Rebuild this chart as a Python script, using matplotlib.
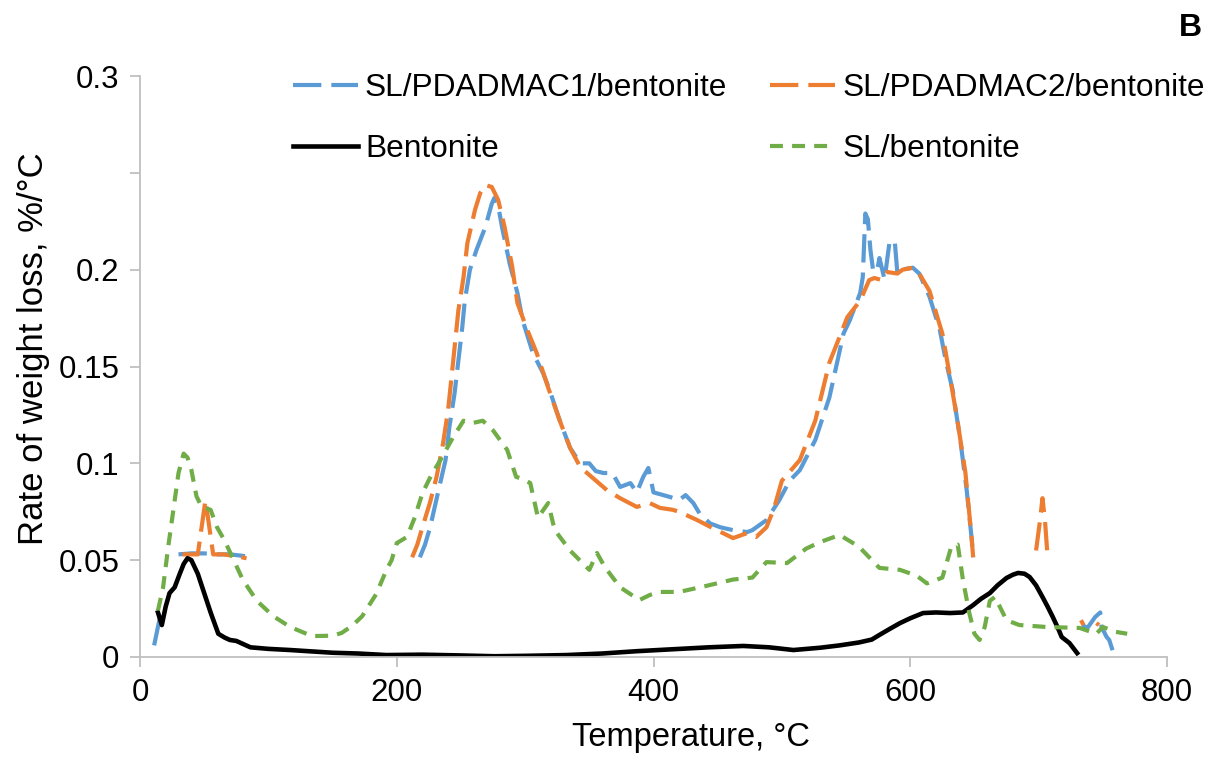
import numpy as np
import matplotlib
matplotlib.use("Agg")
import matplotlib.pyplot as plt

nan = np.nan

# Bentonite
bent_t = [14, 17, 20, 23, 27, 31, 34, 37, 40, 45, 50, 55, 61, 66, 70, 75, 86, 100, 117, 131,
          150, 170, 192, 220, 250, 276, 300, 332, 360, 387, 415, 443, 470, 490, 509, 530, 545,
          560, 570, 576, 584, 592, 600, 610, 620, 631, 641, 649, 655, 662, 668, 675, 680, 684,
          689, 693, 698, 703, 707, 711, 715, 718, 724, 730]
bent_r = [0.023, 0.0165, 0.026, 0.033, 0.036, 0.043, 0.048, 0.051, 0.050, 0.043, 0.033, 0.023,
          0.012, 0.010, 0.0088, 0.0083, 0.005, 0.0042, 0.0036, 0.003, 0.0022, 0.0018, 0.001,
          0.0012, 0.0008, 0.0004, 0.0006, 0.001, 0.0018, 0.003, 0.004, 0.005, 0.0057, 0.005,
          0.0036, 0.0048, 0.006, 0.0075, 0.009, 0.0114, 0.0145, 0.0175, 0.020, 0.0227, 0.023,
          0.0227, 0.023, 0.0268, 0.030, 0.033, 0.037, 0.0408, 0.0425, 0.0434, 0.043, 0.0413,
          0.037, 0.031, 0.026, 0.0207, 0.015, 0.0103, 0.0072, 0.002]

# SL/bentonite
sl_t = [14, 18, 22, 26, 30, 34, 37, 40, 44, 48, 55, 60, 66, 73, 80, 91, 104, 117, 134, 150,
        157, 165, 173, 184, 192, 196, 200, 208, 214, 220, 227, 234, 244, 252, 259, 267, 275,
        286, 293, 298, 304, 310, 318, 323, 335, 350, 356, 362, 374, 389, 397, 405, 420, 441,
        462, 477, 488, 504, 519, 530, 545, 560, 576, 592, 605, 613, 625, 632, 637, 641, 646,
        650, 654, 658, 662, 666, 675, 685, 706, 732, 745, 750, 760, 769]
sl_r = [0.024, 0.036, 0.057, 0.076, 0.095, 0.105, 0.103, 0.0966, 0.083, 0.0775, 0.076, 0.067,
        0.060, 0.050, 0.040, 0.029, 0.021, 0.0155, 0.0108, 0.011, 0.0124, 0.016, 0.021, 0.0325,
        0.045, 0.050, 0.0588, 0.062, 0.072, 0.0846, 0.094, 0.1017, 0.1136, 0.122, 0.1208, 0.122,
        0.117, 0.107, 0.093, 0.092, 0.0898, 0.072, 0.0795, 0.0656, 0.055, 0.045, 0.0537, 0.0465,
        0.036, 0.0294, 0.032, 0.0336, 0.0336, 0.0367, 0.040, 0.041, 0.049, 0.0485, 0.056,
        0.0594, 0.063, 0.057, 0.046, 0.045, 0.042, 0.038, 0.041, 0.057, 0.058, 0.040, 0.0227,
        0.012, 0.0088, 0.0155, 0.029, 0.031, 0.019, 0.0165, 0.0155, 0.015, 0.012, 0.0155, 0.013,
        0.012]

# SL/PDADMAC1/bentonite (gaps kept as nan)
pd1_t = [11, 16, nan, 30, 40, 50, 60, 70, 83, nan,
         218, 222, 226, 232, 238, 241, 245, 248, 251, 253, 257, 262, 269, 274, 276, 279, 282,
         288, 294, 298, 306, 314, 319, 327, 335, 343, 350, 355, 361, 368, 374, 382, 387, 392,
         396, 400, 413, 420, 425, 431, 436, 444, 452, 462, 473, 477, 488, 498, 506, 514, 526,
         537, 543, 548, 553, 561, 563, 565, 567, 569, 571, 574, 576, 580, 584, 588, 590, 593,
         602, 607, 615, 623, 628, 633, 639, 644, 648, 649, nan,
         734, 738, 744, 748, 749, 753, 755, 758]
pd1_r = [0.006, 0.022, nan, 0.053, 0.0535, 0.0535, 0.053, 0.053, 0.052, nan,
         0.0515, 0.058, 0.067, 0.0845, 0.1017, 0.1187, 0.136, 0.153, 0.170, 0.184, 0.200, 0.210,
         0.222, 0.234, 0.237, 0.233, 0.222, 0.203, 0.188, 0.174, 0.157, 0.1466, 0.138, 0.122,
         0.108, 0.100, 0.100, 0.096, 0.095, 0.095, 0.0878, 0.0898, 0.085, 0.093, 0.0976, 0.085,
         0.0826, 0.081, 0.0836, 0.0795, 0.074, 0.069, 0.067, 0.0655, 0.0645, 0.0655, 0.0707,
         0.081, 0.091, 0.0965, 0.112, 0.134, 0.152, 0.167, 0.174, 0.188, 0.196, 0.229, 0.226,
         0.21, 0.200, 0.199, 0.206, 0.195, 0.215, 0.214, 0.198, 0.200, 0.201, 0.198, 0.186,
         0.169, 0.152, 0.138, 0.112, 0.086, 0.060, 0.0515, nan,
         0.0165, 0.015, 0.0206, 0.023, 0.0155, 0.0103, 0.0088, 0.0026]

# SL/PDADMAC2/bentonite
pd2_t = [33, 40, 45, 48, 51, 54, 57, 65, 75, 83, nan,
         212, 216, 220, 226, 231, 236, 240, 244, 248, 252, 255, 261, 265, 269, 274, 279, 284,
         290, 294, 301, 309, 318, 327, 335, 343, 350, 357, 364, 374, 387, 397, 405, 415, 420,
         434, 446, 462, 473, 480, 488, 494, 500, 514, 526, 537, 543, 551, 561, 568, 572, 578,
         582, 590, 594, 602, 607, 615, 625, 631, 637, 643, 648, 649, nan,
         698, 701, 703, 705, 707, nan,
         733, 735, nan, 745, 747]
pd2_r = [0.053, 0.053, 0.053, 0.067, 0.081, 0.067, 0.053, 0.053, 0.052, 0.051, nan,
         0.0515, 0.058, 0.067, 0.080, 0.093, 0.110, 0.1275, 0.153, 0.179, 0.196, 0.2137, 0.231,
         0.2395, 0.2437, 0.2427, 0.236, 0.222, 0.2013, 0.1828, 0.170, 0.157, 0.139, 0.122,
         0.108, 0.098, 0.094, 0.090, 0.086, 0.082, 0.0775, 0.0795, 0.077, 0.076, 0.075, 0.0707,
         0.0666, 0.0614, 0.064, 0.062, 0.067, 0.077, 0.091, 0.1017, 0.122, 0.152, 0.162,
         0.1755, 0.184, 0.1946, 0.1957, 0.1946, 0.1988, 0.198, 0.200, 0.201, 0.198, 0.189,
         0.167, 0.1445, 0.121, 0.095, 0.060, 0.0515, nan,
         0.055, 0.07, 0.082, 0.07, 0.0515, nan,
         0.019, 0.0165, nan, 0.0175, 0.0165]

y_ticks = [0, 0.05, 0.1, 0.15, 0.2, 0.25, 0.3]
y_labels = ["0", "0.05", "0.1", "0.15", "0.2", "", "0.3"]
x_ticks = [0, 200, 400, 600, 800]

plt.rcParams["font.family"] = ["Liberation Sans", "DejaVu Sans"]
GRAY = "#bfbfbf"

fig = plt.figure(figsize=(12.11, 7.57), dpi=100)
ax = fig.add_axes([140 / 1211, 1 - 657 / 757, 1027 / 1211, 581 / 757])

lw = 3.0
ax.plot(pd1_t, pd1_r, color="#5b9bd5", lw=lw, linestyle=(0, (6.8, 2.4)),
        label="SL/PDADMAC1/bentonite")
ax.plot(pd2_t, pd2_r, color="#ed7d31", lw=lw, linestyle=(0, (6.8, 2.4)),
        label="SL/PDADMAC2/bentonite")
ax.plot(bent_t, bent_r, color="black", lw=lw + 0.3, label="Bentonite")
ax.plot(sl_t, sl_r, color="#70ad47", lw=lw, linestyle=(0, (3.1, 2.2)), label="SL/bentonite")

ax.set_xlim(0, 800)
ax.set_ylim(0, 0.3)
ax.set_xticks(x_ticks)
ax.set_yticks(y_ticks)
ax.set_yticklabels(y_labels)
ax.tick_params(labelsize=22.5, color=GRAY, length=7, width=1.3, direction="out", pad=8)
for side in ("top", "right"):
    ax.spines[side].set_visible(False)
for side in ("left", "bottom"):
    ax.spines[side].set_color(GRAY)
    ax.spines[side].set_linewidth(1.3)

ax.set_xlabel("Temperature, °C", fontsize=23.5)
ax.xaxis.set_label_coords((691 - 140) / 1027, -0.112)
ax.set_ylabel("Rate of weight loss, %/°C", fontsize=25)
ax.yaxis.set_label_coords(-0.088, 0.53)

handles, labels = ax.get_legend_handles_labels()
order = [0, 2, 1, 3]
fig.legend([handles[i] for i in order], [labels[i] for i in order],
           loc="upper left", bbox_to_anchor=(293 / 1211, 1 - 73 / 757),
           ncol=2, frameon=False, fontsize=22.8, handlelength=2.05, handletextpad=0.22,
           columnspacing=1.36, labelspacing=0.98, borderpad=0, borderaxespad=0)

fig.text(1190 / 1211, 1 - 28 / 757, "B", fontsize=23, fontweight="bold",
         ha="center", va="center")

fig.savefig("out.png", dpi=100)
